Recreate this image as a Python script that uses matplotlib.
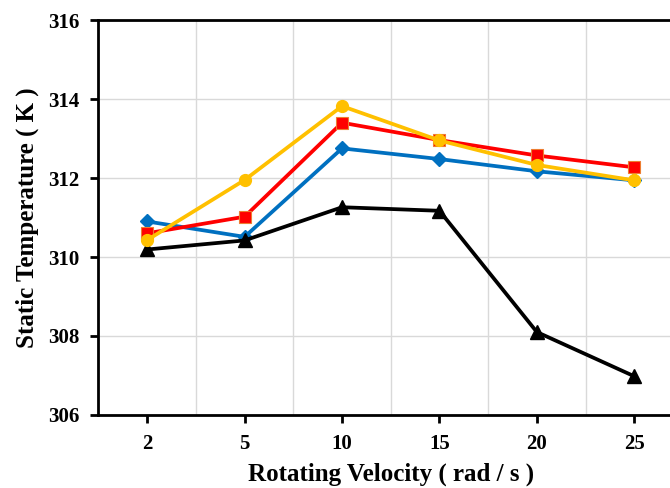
import matplotlib

matplotlib.use("Agg")
import matplotlib.pyplot as plt

velocities = ["2", "5", "10", "15", "20", "25"]
blue_vals = [310.90, 310.51, 312.75, 312.48, 312.17, 311.94]
red_vals = [310.60, 311.02, 313.40, 312.96, 312.57, 312.27]
yellow_vals = [310.43, 311.95, 313.82, 312.95, 312.33, 311.94]
black_vals = [310.19, 310.42, 311.26, 311.17, 308.10, 306.98]

plt.rcParams["font.family"] = ["Liberation Serif", "DejaVu Serif"]
plt.rcParams["font.weight"] = "bold"

fig = plt.figure(figsize=(6.7, 4.88), dpi=100)
ax = fig.add_axes([0.147, 0.1496, 0.8724, 0.8094])

x = list(range(len(velocities)))
ax.plot(x, blue_vals, color="#0070C0", lw=2.7, marker="D", ms=7.5, zorder=3)
ax.plot(x, black_vals, color="black", lw=2.7, marker="^", ms=10, zorder=3)
ax.plot(x, red_vals, color="#FF0000", lw=2.7, marker="s", ms=9,
        mec="#ED7D31", mew=0.8, zorder=4)
ax.plot(x, yellow_vals, color="#FFC000", lw=2.7, marker="o", ms=8.5, zorder=5)

ax.set_xlim(-0.5, len(velocities) - 0.5)
ax.set_ylim(306, 316)
ax.set_yticks(range(306, 317, 2))
ax.set_xticks(x)
ax.set_xticklabels(velocities)
ax.set_xticks([i + 0.5 for i in x[:-1]], minor=True)

ax.grid(True, axis="y", color="#d9d9d9", lw=1)
ax.grid(True, axis="x", which="minor", color="#d9d9d9", lw=1)
ax.set_axisbelow(True)

for side in ["left", "bottom", "top", "right"]:
    ax.spines[side].set_linewidth(2)
    ax.spines[side].set_color("black")

ax.tick_params(axis="both", which="major", direction="out", length=6,
               width=2, labelsize=15, pad=8)
ax.tick_params(axis="x", which="minor", length=0)

ax.set_xlabel("Rotating Velocity ( rad / s )", fontsize=18, fontweight="bold", labelpad=6)
ax.set_ylabel("Static Temperature ( K )", fontsize=18, fontweight="bold", labelpad=6)

fig.savefig("out.png", dpi=100)
plt.close(fig)
